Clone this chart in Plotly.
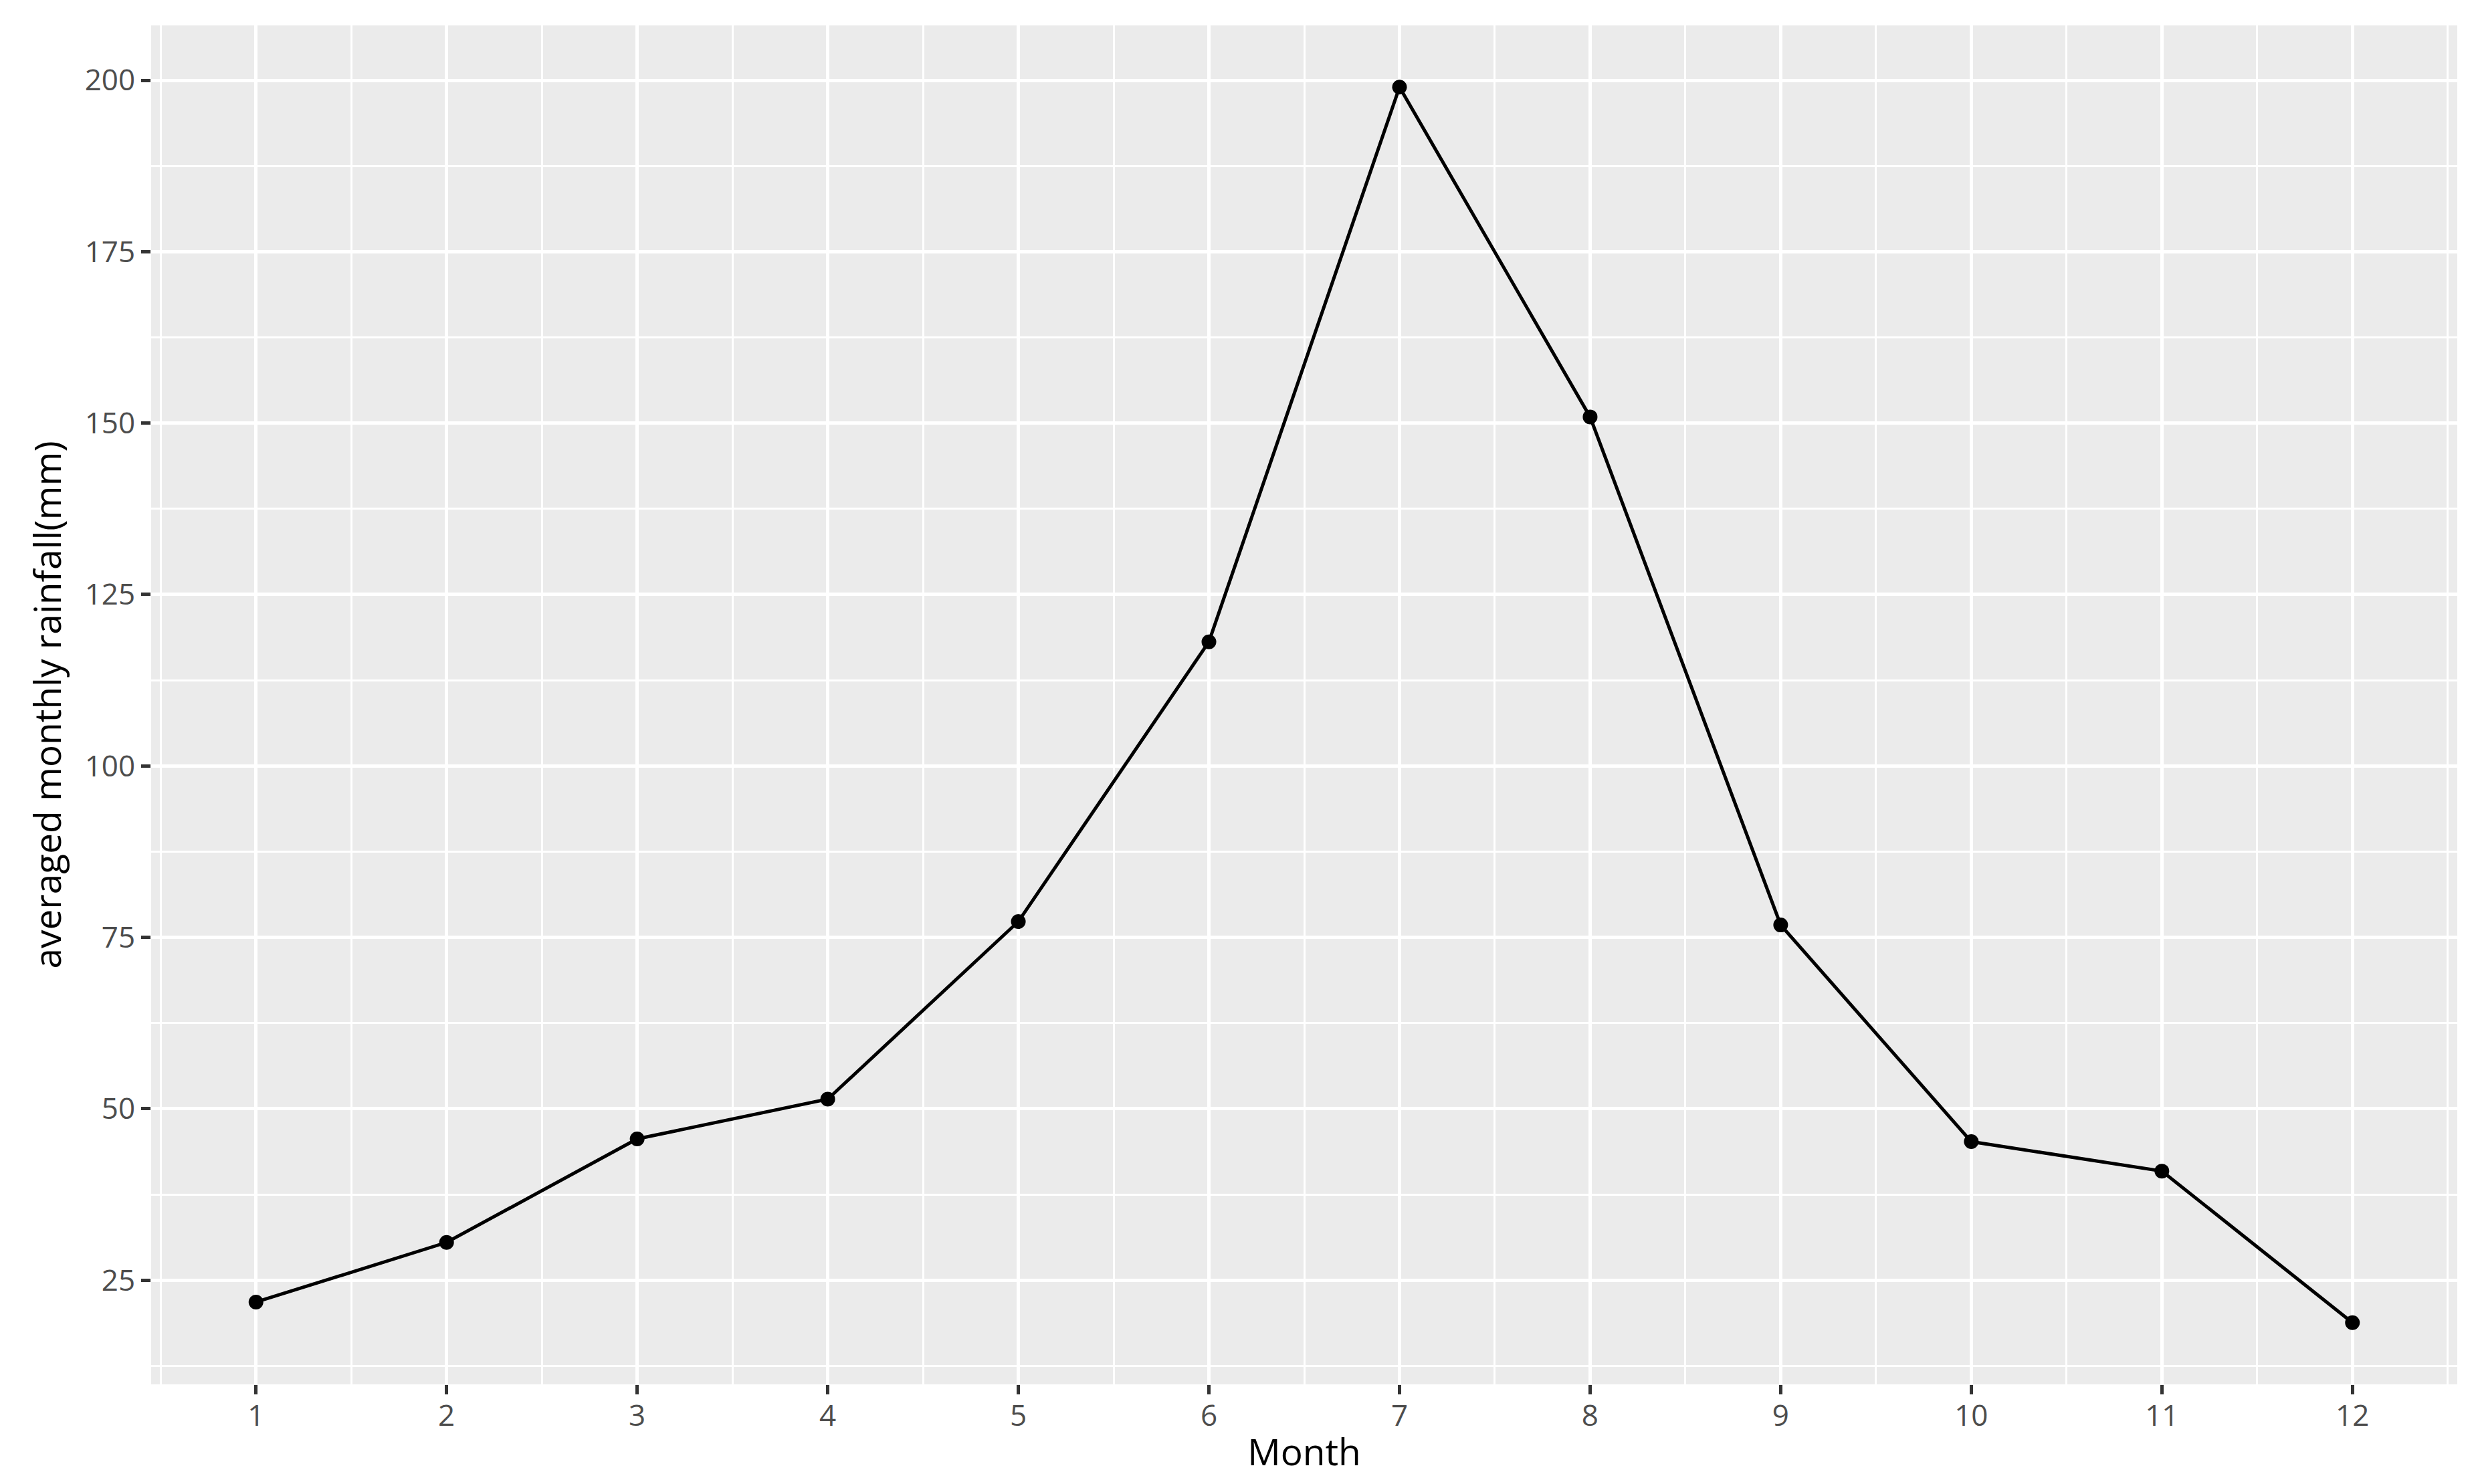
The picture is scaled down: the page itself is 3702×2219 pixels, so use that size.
import plotly.graph_objects as go

months = [1, 2, 3, 4, 5, 6, 7, 8, 9, 10, 11, 12]
rainfall = [21.8, 30.5, 45.6, 51.4, 77.3, 118.1, 199.0, 150.9, 76.8, 45.2, 40.9, 18.8]
y_ticks = [25, 50, 75, 100, 125, 150, 175, 200]

FONT = "Open Sans"

fig = go.Figure()
fig.add_trace(go.Scatter(
    x=months, y=rainfall, mode="lines+markers",
    line=dict(color="black", width=5),
    marker=dict(color="black", size=22),
    showlegend=False,
))

fig.update_layout(
    width=3702, height=2219,
    paper_bgcolor="white", plot_bgcolor="#EBEBEB",
    margin=dict(l=226, r=28, t=38, b=149, autoexpand=False),
    font=dict(family=FONT),
)

fig.update_xaxes(
    range=[0.45, 12.55], tickmode="array", tickvals=months,
    ticktext=[str(m) for m in months],
    showgrid=True, gridcolor="white", gridwidth=5,
    minor=dict(dtick=0.5, tick0=0.5, showgrid=True, gridcolor="white", gridwidth=2.6),
    ticks="outside", ticklen=14, tickwidth=5, tickcolor="#333333",
    tickfont=dict(family=FONT, size=44, color="#4D4D4D"),
    ticklabelstandoff=-6,
    zeroline=False, showline=False,
    title=dict(text="Month", font=dict(family=FONT, size=55, color="black"), standoff=8),
    automargin=False,
)
fig.update_yaxes(
    range=[9.8, 208], tickmode="array", tickvals=y_ticks,
    ticktext=[str(v) for v in y_ticks],
    showgrid=True, gridcolor="white", gridwidth=5,
    minor=dict(dtick=12.5, tick0=0, showgrid=True, gridcolor="white", gridwidth=2.6),
    ticks="outside", ticklen=14, tickwidth=5, tickcolor="#333333",
    tickfont=dict(family=FONT, size=44, color="#4D4D4D"),
    zeroline=False, showline=False,
    title=dict(text="averaged monthly rainfall(mm)", font=dict(family=FONT, size=55, color="black"), standoff=17),
    automargin=False,
)

fig.write_html(
    "out.html",
    config={"displayModeBar": False},
    post_script="document.body.style.margin='0';document.body.style.overflow='hidden';",
)
